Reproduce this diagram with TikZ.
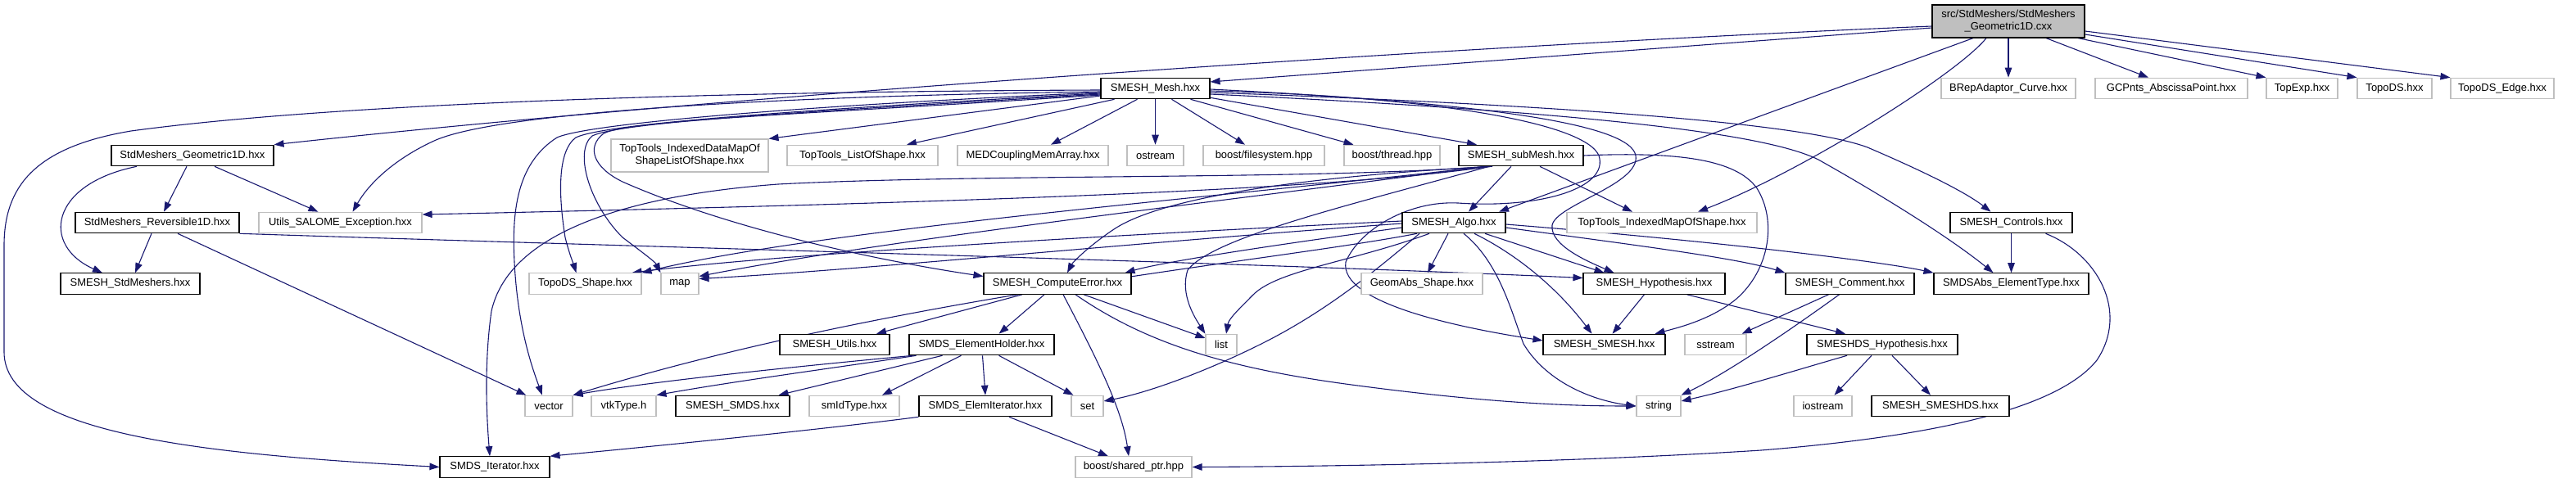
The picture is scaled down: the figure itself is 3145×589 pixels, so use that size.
\documentclass[tikz,border=0pt]{standalone}
\usepackage{fontspec}
\newfontfamily\dxf{Liberation Sans}
\usetikzlibrary{arrows.meta}
\definecolor{edgeblue}{HTML}{191970}
\definecolor{boxgray}{HTML}{BFBFBF}
\pgfdeclarelayer{bg}
\pgfsetlayers{bg,main}
\begin{document}
\begin{tikzpicture}[x=1pt,y=-1pt,
  nd/.style={draw=black, fill=white, line width=1.1pt, inner sep=0pt, minimum height=25.5pt, font=\dxf\fontsize{13}{15}\selectfont, align=center},
  gn/.style={nd, draw=boxgray},
  e/.style={draw=edgeblue, line width=1.1pt, -{Triangle[length=12pt,width=8.5pt]}},
]
\useasboundingbox (0,0) rectangle (3145,589);
% nodes
\node[nd, fill=boxgray, minimum height=40pt, minimum width=186pt] (R) at (2452,26) {src/StdMeshers/StdMeshers\\\_Geometric1D.cxx};
\node[gn, minimum width=164pt] (BR) at (2452,108) {BRepAdaptor\_Curve.hxx};
\node[gn, minimum width=186pt] (GC) at (2651,108) {GCPnts\_AbscissaPoint.hxx};
\node[gn, minimum width=87pt] (TE) at (2810.5,108) {TopExp.hxx};
\node[gn, minimum width=91pt] (TO) at (2923.5,108) {TopoDS.hxx};
\node[gn, minimum width=126pt] (TDE) at (3055,108) {TopoDS\_Edge.hxx};
\node[nd, minimum width=133pt] (M) at (1410.5,108) {SMESH\_Mesh.hxx};
\node[nd, minimum width=198pt] (G) at (235,190) {StdMeshers\_Geometric1D.hxx};
\node[gn, minimum width=192pt, minimum height=40pt] (TDM) at (842,190) {TopTools\_IndexedDataMapOf\\ShapeListOfShape.hxx};
\node[gn, minimum width=184pt] (TL) at (1053,190) {TopTools\_ListOfShape.hxx};
\node[gn, minimum width=184pt] (MED) at (1261,190) {MEDCouplingMemArray.hxx};
\node[gn, minimum width=69pt] (OS) at (1410.5,190) {ostream};
\node[gn, minimum width=148pt] (BFS) at (1543,190) {boost/filesystem.hpp};
\node[gn, minimum width=117pt] (BTH) at (1699.5,190) {boost/thread.hpp};
\node[nd, minimum width=152pt] (SM) at (1857,190) {SMESH\_subMesh.hxx};
\node[nd, minimum width=200pt] (RV) at (192,272) {StdMeshers\_Reversible1D.hxx};
\node[gn, minimum width=199pt] (U) at (415.5,272) {Utils\_SALOME\_Exception.hxx};
\node[nd, minimum width=126pt] (A) at (1775,272) {SMESH\_Algo.hxx};
\node[gn, minimum width=232pt] (TM) at (2029,272) {TopTools\_IndexedMapOfShape.hxx};
\node[nd, minimum width=149pt] (C) at (2455.5,272) {SMESH\_Controls.hxx};
\node[nd, minimum width=170pt] (SS) at (159,346.5) {SMESH\_StdMeshers.hxx};
\node[gn, minimum width=137pt] (TS) at (714.5,346.5) {TopoDS\_Shape.hxx};
\node[gn, minimum width=46pt] (MP) at (830,346.5) {map};
\node[nd, minimum width=180pt] (CE) at (1291,346.5) {SMESH\_ComputeError.hxx};
\node[gn, minimum width=148pt] (GA) at (1736,346.5) {GeomAbs\_Shape.hxx};
\node[nd, minimum width=173pt] (H) at (2019.5,346.5) {SMESH\_Hypothesis.hxx};
\node[nd, minimum width=157pt] (CM) at (2258.5,346.5) {SMESH\_Comment.hxx};
\node[nd, minimum width=189pt] (ET) at (2455.5,346.5) {SMDSAbs\_ElementType.hxx};
\node[nd, minimum width=134pt] (UT) at (1019,421) {SMESH\_Utils.hxx};
\node[nd, minimum width=177pt] (EH) at (1198.5,421) {SMDS\_ElementHolder.hxx};
\node[gn, minimum width=38pt] (L) at (1491,421) {list};
\node[nd, minimum width=149pt] (SMH) at (1958.5,421) {SMESH\_SMESH.hxx};
\node[gn, minimum width=75pt] (SST) at (2094.5,421) {sstream};
\node[nd, minimum width=184pt] (DH) at (2298,421) {SMESHDS\_Hypothesis.hxx};
\node[gn, minimum width=58pt] (V) at (670,496) {vector};
\node[gn, minimum width=79pt] (VTK) at (761.5,496) {vtkType.h};
\node[nd, minimum width=139pt] (SMDS) at (894.5,496) {SMESH\_SMDS.hxx};
\node[gn, minimum width=110pt] (SMID) at (1043,496) {smIdType.hxx};
\node[nd, minimum width=162pt] (EI) at (1203,496) {SMDS\_ElemIterator.hxx};
\node[gn, minimum width=39pt] (SET) at (1327.5,496) {set};
\node[gn, minimum width=54pt] (STR) at (2025,496) {string};
\node[gn, minimum width=71pt] (IOS) at (2225.5,496) {iostream};
\node[nd, minimum width=168pt] (SHDS) at (2369,496) {SMESH\_SMESHDS.hxx};
\node[nd, minimum width=134pt] (IT) at (604,570.5) {SMDS\_Iterator.hxx};
\node[gn, minimum width=142pt] (SP) at (1384,570.5) {boost/shared\_ptr.hpp};
\begin{pgfonlayer}{bg}
% root
\draw[e] ([yshift=-6pt]R.west) .. controls (1800,55) and (900,115) .. (G.north east);
\draw[e] ([yshift=-8pt]R.west) -- ([yshift=8pt]M.east);
\draw[e] ([xshift=-43pt]R.south) -- ([xshift=55pt]A.north);
\draw[e] ([xshift=-27pt]R.south) .. controls (2390,90) and (2200,210) .. ([xshift=44pt]TM.north);
\draw[e] (R.south) -- (BR.north);
\draw[e] ([xshift=46pt]R.south) -- ([xshift=-28pt]GC.north);
\draw[e] ([xshift=85pt]R.south) -- (TE.north west);
\draw[e] ([yshift=-16pt]R.east) -- (TO.north west);
\draw[e] ([yshift=-12pt]R.east) -- (TDE.north west);
% Geometric1D
\draw[e] ([xshift=-68pt]G.south) .. controls (60,225) and (50,300) .. ([xshift=-34pt]SS.north);
\draw[e] ([xshift=-7pt]G.south) -- ([xshift=8pt]RV.north);
\draw[e] ([xshift=27pt]G.south) -- ([xshift=-27pt]U.north);
% Reversible1D
\draw[e] ([xshift=-7pt]RV.south) -- ([xshift=6pt]SS.north);
\draw[e] ([xshift=25pt]RV.south) -- ([xshift=2pt]V.north west);
\draw[e] (RV.south east) .. controls (800,302) and (1500,320) .. ([yshift=7pt]H.west);
% SMESH_Mesh
\draw[e] ([yshift=-2pt]M.west) .. controls (800,112) and (380,130) .. (160,160) .. controls (40,180) and (5,230) .. (5,300) -- (5,430) .. controls (5,530) and (250,555) .. (IT.west);
\draw[e] ([yshift=-4pt]M.west) .. controls (900,118) and (600,140) .. (530,172) .. controls (480,195) and (450,225) .. ([xshift=15pt]U.north);
\draw[e] ([yshift=-9pt]M.west) -- (TDM.north east);
\draw[e] ([xshift=-50pt]M.south) -- ([xshift=54pt]TL.north);
\draw[e] ([xshift=-22pt]M.south) -- ([xshift=22pt]MED.north);
\draw[e] (M.south) -- (OS.north);
\draw[e] ([xshift=20pt]M.south) -- ([xshift=-23pt]BFS.north);
\draw[e] ([xshift=43pt]M.south) -- ([xshift=-47pt]BTH.north);
\draw[e] ([yshift=2pt]M.south east) -- ([xshift=-54pt]SM.north);
\draw[e] ([yshift=-5pt]M.west) .. controls (1000,128) and (720,150) .. (680,168) .. controls (630,200) and (625,260) .. (628,320) .. controls (632,400) and (650,450) .. ([xshift=-8pt]V.north);
\draw[e] ([yshift=-6pt]M.west) .. controls (1000,133) and (740,150) .. (703,168) .. controls (680,185) and (682,240) .. (690,290) .. controls (695,310) and (700,322) .. ([xshift=-11pt]TS.north);
\draw[e] ([yshift=-7pt]M.west) .. controls (1000,136) and (760,148) .. (723,166) .. controls (700,185) and (720,250) .. (760,290) .. controls (780,305) and (800,320) .. (MP.north west);
\draw[e] ([yshift=-8pt]M.west) .. controls (1000,139) and (770,146) .. (737,163) .. controls (715,180) and (725,205) .. (760,222) .. controls (880,275) and (1050,315) .. ([yshift=9pt]CE.west);
\draw[e] ([yshift=-3pt]M.east) .. controls (1750,118) and (1935,150) .. (1952,190) .. controls (1965,230) and (1880,255) .. (1780,248) .. controls (1720,245) and (1660,280) .. (1643,320) .. controls (1635,370) and (1780,400) .. ([yshift=5pt]SMH.west);
\draw[e] ([yshift=-1pt]M.east) .. controls (1800,125) and (1990,150) .. (1997,190) .. controls (2003,225) and (1900,250) .. (1895,275) .. controls (1892,300) and (1940,320) .. ([xshift=-49pt]H.north);
\draw[e] ([yshift=-5pt]M.east) .. controls (1900,128) and (2200,150) .. (2280,180) .. controls (2350,210) and (2400,235) .. ([xshift=-25pt]C.north);
\draw[e] ([yshift=-7pt]M.east) .. controls (1900,135) and (2150,160) .. (2220,195) .. controls (2300,240) and (2380,290) .. ([xshift=-22pt]ET.north);
% subMesh
\draw[e] ([xshift=-12pt]SM.south) -- ([xshift=18pt]A.north);
\draw[e] ([xshift=23pt]SM.south) -- ([xshift=-36pt]TM.north);
\draw[e] ([xshift=-37pt]SM.south) .. controls (1650,228) and (1300,245) .. ([yshift=10pt]U.east);
\draw[e] ([xshift=-40pt]SM.south) .. controls (1600,220) and (1200,212) .. (950,225) .. controls (750,240) and (620,290) .. (600,380) .. controls (590,450) and (595,520) .. ([xshift=-6pt]IT.north);
\draw[e] ([xshift=-42pt]SM.south) .. controls (1500,240) and (1000,280) .. (TS.north east);
\draw[e] ([xshift=-44pt]SM.south) .. controls (1500,245) and (1100,290) .. ([yshift=9pt]MP.east);
\draw[e] ([xshift=-39pt]SM.south) .. controls (1650,250) and (1480,290) .. (1450,330) .. controls (1440,360) and (1460,390) .. (L.north west);
\draw[e] ([xshift=-35pt]SM.south) .. controls (1600,215) and (1420,240) .. (1360,280) .. controls (1330,300) and (1310,320) .. ([xshift=12pt]CE.north);
\draw[e] (SM.east) .. controls (2050,185) and (2120,195) .. (2145,230) .. controls (2170,270) and (2160,330) .. (2120,365) .. controls (2090,390) and (2050,400) .. ([xshift=62pt]SMH.north);
% Algo
\draw[e] ([yshift=2pt]A.west) .. controls (1400,285) and (950,310) .. ([xshift=-12pt]TS.north east);
\draw[e] ([yshift=-1pt]A.west) .. controls (1400,295) and (1050,330) .. ([yshift=6pt]MP.east);
\draw[e] ([xshift=-45pt]A.south) .. controls (1550,320) and (1100,360) .. (V.north east);
\draw[e] ([xshift=-30pt]A.south) .. controls (1650,320) and (1560,330) .. (1530,360) .. controls (1510,380) and (1500,390) .. ([xshift=6pt]L.north);
\draw[e] ([xshift=-42pt]A.south) .. controls (1680,330) and (1620,380) .. (1540,420) .. controls (1470,455) and (1400,480) .. ([yshift=6pt]SET.east);
\draw[e] ([yshift=-6pt]A.west) .. controls (1550,300) and (1420,320) .. ([xshift=-8pt]CE.north east);
\draw[e] ([xshift=-7pt]A.south) -- ([xshift=7pt]GA.north);
\draw[e] ([xshift=12pt]A.south) .. controls (1830,320) and (1845,380) .. (1860,420) .. controls (1890,470) and (1950,490) .. (STR.west);
\draw[e] ([xshift=25pt]A.south) .. controls (1850,310) and (1900,350) .. ([xshift=-15pt]SMH.north);
\draw[e] ([xshift=38pt]A.south) -- ([xshift=-61pt]H.north);
\draw[e] ([yshift=-6pt]A.east) .. controls (2000,300) and (2120,315) .. (CM.north west);
\draw[e] ([yshift=-2pt]A.east) .. controls (2100,295) and (2300,320) .. (ET.north west);
% ComputeError
\draw[e] ([xshift=-43pt]CE.south) -- ([xshift=51pt]UT.north);
\draw[e] ([xshift=-16pt]CE.south) -- ([xshift=21pt]EH.north);
\draw[e] ([xshift=7pt]CE.south) .. controls (1340,440) and (1370,500) .. ([xshift=-6pt]SP.north);
\draw[e] ([xshift=32pt]CE.south) -- ([yshift=8pt]L.west);
\draw[e] ([xshift=22pt]CE.south) .. controls (1400,420) and (1500,450) .. (1650,470) .. controls (1800,490) and (1900,496) .. (STR.west);
% ElementHolder
\draw[e] ([xshift=-84pt]EH.south) .. controls (1000,445) and (800,465) .. (V.north east);
\draw[e] ([xshift=-80pt]EH.south) .. controls (1050,445) and (900,465) .. (VTK.north east);
\draw[e] ([xshift=-48pt]EH.south) -- ([xshift=56pt]SMDS.north);
\draw[e] ([xshift=-25pt]EH.south) -- ([xshift=34pt]SMID.north);
\draw[e] ([xshift=1pt]EH.south) -- (EI.north);
\draw[e] ([xshift=21pt]EH.south) -- ([xshift=-17pt]SET.north);
% ElemIterator
\draw[e] (EI.south west) .. controls (1000,525) and (800,545) .. (IT.north east);
\draw[e] ([xshift=29pt]EI.south) -- ([xshift=-31pt]SP.north);
% Hypothesis, Comment, DS
\draw[e] ([xshift=-12pt]H.south) -- ([xshift=10pt]SMH.north);
\draw[e] ([xshift=40pt]H.south) -- ([xshift=-45pt]DH.north);
\draw[e] ([xshift=-26pt]CM.south) -- ([xshift=32pt]SST.north);
\draw[e] ([xshift=-13pt]CM.south) .. controls (2190,400) and (2110,455) .. (STR.north east);
\draw[e] ([xshift=-43pt]DH.south) .. controls (2200,450) and (2120,475) .. ([yshift=6pt]STR.east);
\draw[e] ([xshift=-13pt]DH.south) -- ([xshift=14pt]IOS.north);
\draw[e] ([xshift=12pt]DH.south) -- ([xshift=-12pt]SHDS.north);
% Controls
\draw[e] (C.south) -- (ET.north);
\draw[e] ([xshift=42pt]C.south) .. controls (2560,310) and (2600,380) .. (2560,440) .. controls (2520,490) and (2400,530) .. (2150,550) .. controls (1900,566) and (1600,570) .. (SP.east);
\end{pgfonlayer}
\end{tikzpicture}
\end{document}
